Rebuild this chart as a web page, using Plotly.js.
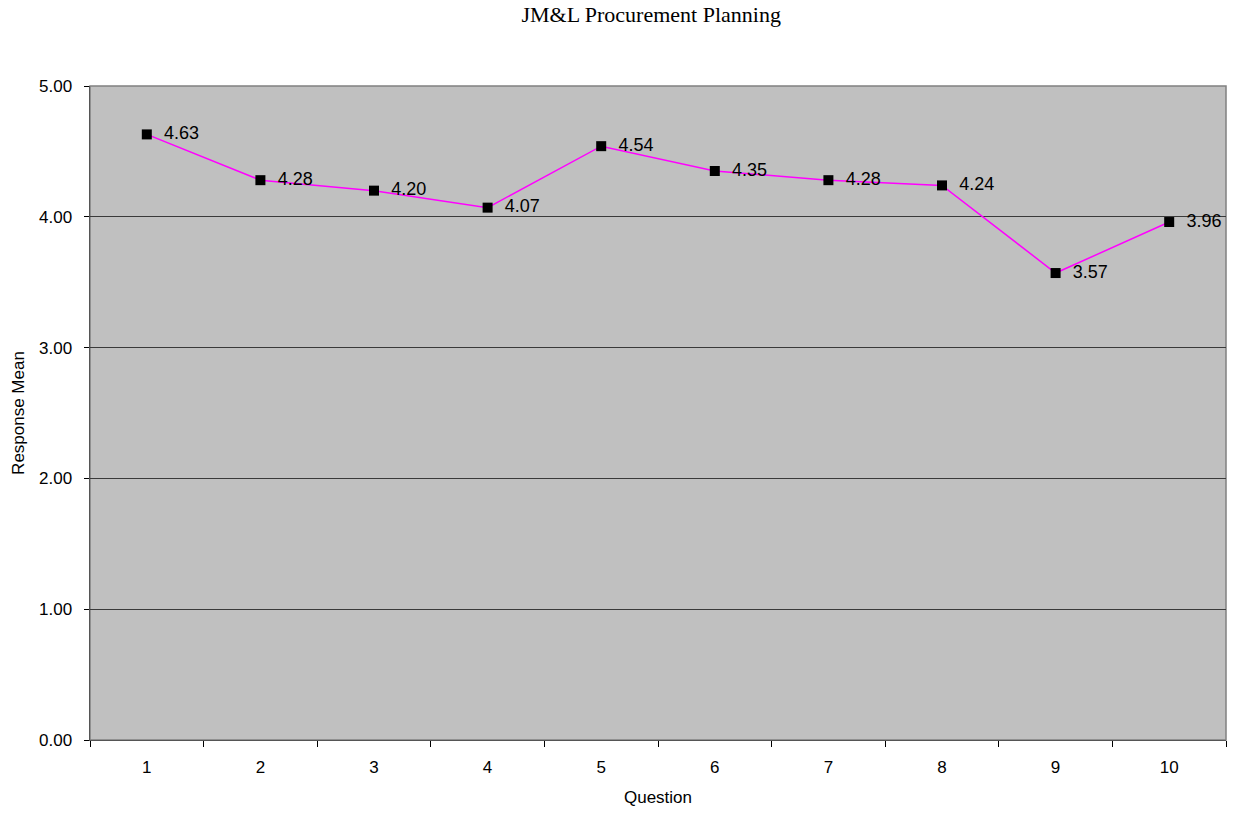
<!DOCTYPE html>
<html><head><meta charset="utf-8">
<script src="https://cdn.plot.ly/plotly-3.0.1.min.js"></script>
<style>body{margin:0;background:#fff}#c{width:1234px;height:814px}</style>
</head><body><div id="c"></div>
<script>
const questions = ["1","2","3","4","5","6","7","8","9","10"];
const means = [4.63, 4.28, 4.20, 4.07, 4.54, 4.35, 4.28, 4.24, 3.57, 3.96];
const meanLabels = means.map(v => '  ' + v.toFixed(2));

const trace = {
  x: questions, y: means, type: 'scatter', mode: 'lines+markers+text',
  text: meanLabels, textposition: 'middle right',
  textfont: {family: 'Liberation Sans, Arial', size: 18, color: '#000'},
  line: {color: '#FF00FF', width: 1.5},
  marker: {symbol: 'square', size: 10, color: '#000'},
  cliponaxis: false, hoverinfo: 'skip'
};
const layout = {
  width: 1234, height: 814,
  margin: {l: 90, r: 8, t: 86, b: 74},
  paper_bgcolor: '#fff', plot_bgcolor: '#C0C0C0',
  showlegend: false,
  font: {family: 'Liberation Sans, Arial', size: 17, color: '#000'},
  title: {text: 'JM&L Procurement Planning', x: 0.494, xref: 'paper', xanchor: 'center', y: 0.992, yanchor: 'top',
          font: {family: 'Liberation Serif, Times New Roman', size: 22, color: '#000'}},
  xaxis: {type: 'category', tickson: 'boundaries', ticks: 'outside', ticklen: 6, tickcolor: '#000',
          showgrid: false, showline: true, linecolor: '#555', linewidth: 1, mirror: false,
          zeroline: false, range: [-0.5, 9.5], tickfont: {size: 17}, ticklabelstandoff: 12,
          title: {text: 'Question', font: {size: 17}, standoff: 14}},
  yaxis: {range: [0, 5], tickvals: [0,1,2,3,4,5], tickformat: '.2f', ticks: 'outside', ticklen: 5,
          tickcolor: '#000', showgrid: true, gridcolor: '#3a3a3a', gridwidth: 1, zeroline: false,
          showline: true, linecolor: '#555', linewidth: 1.5, tickfont: {size: 17}, ticklabelstandoff: 8,
          title: {text: 'Response Mean', font: {size: 17}, standoff: 10}},
  shapes: [{type: 'rect', xref: 'paper', yref: 'paper', x0: 0, x1: 1, y0: 0, y1: 1,
            line: {color: '#808080', width: 1.5}, fillcolor: 'rgba(0,0,0,0)', layer: 'below'}]
};
Plotly.newPlot('c', [trace], layout, {staticPlot: true});
</script></body></html>
